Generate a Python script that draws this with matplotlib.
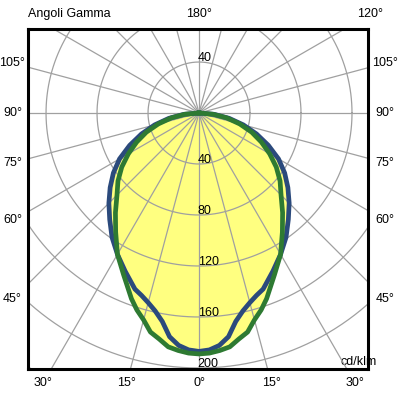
import numpy as np
import matplotlib
matplotlib.use("Agg")
import matplotlib.pyplot as plt

plt.rcParams['font.family'] = ['Liberation Sans', 'DejaVu Sans']

# intensita (cd/klm) per angolo gamma, curva simmetrica
gamma = [0, 2.5, 5, 7.5, 10, 12.5, 15, 17.5, 20, 25, 30, 35, 40, 45, 50, 55, 60, 65, 70, 75, 80, 85, 90]
blu = [187, 186, 183, 177, 166, 159, 154, 150, 147, 137, 128, 119, 109, 100, 91, 82, 72, 60, 48, 36, 24, 12, 0]
verde = [189, 188.5, 187, 185, 180, 176, 168, 162, 155, 140, 128, 114, 102, 91, 83, 74, 64, 54, 44, 33, 22, 11, 0]

cerchi = [40, 80, 120, 160, 200]
etichette_lato = [105, 90, 75, 60, 45]
etichette_sotto = [-30, -15, 0, 15, 30]


def curva(valori):
    g = np.radians(np.array(gamma, dtype=float))
    r = np.array(valori, dtype=float)
    # lato sinistro da 90 a 0, poi lato destro da 0 a 90
    x = np.concatenate([-(r * np.sin(g))[::-1], (r * np.sin(g))[1:]])
    y = np.concatenate([-(r * np.cos(g))[::-1], -(r * np.cos(g))[1:]])
    return x, y


fig = plt.figure(figsize=(3.98, 3.98), dpi=100)
ax = fig.add_axes([28 / 398, 29 / 398, 340 / 398, 340 / 398])
ax.set_xlim(-134.1, 132.5)
ax.set_ylim(-200.8, 65.9)
ax.set_aspect('equal')
ax.set_xticks([])
ax.set_yticks([])
for s in ax.spines.values():
    s.set_linewidth(2.2)
    s.set_zorder(5)

xb, yb = curva(blu)
xv, yv = curva(verde)
ax.fill(xb, yb, color='#ffff80', lw=0, zorder=1)
ax.fill(xv, yv, color='#ffff80', lw=0, zorder=1)

# griglia polare
t = np.linspace(0, 2 * np.pi, 400)
for r in range(40, 440, 40):
    ax.plot(r * np.cos(t), r * np.sin(t), color='#a0a0a0', lw=0.9, zorder=2)
for a in range(0, 360, 15):
    ar = np.radians(a)
    ax.plot([0, 420 * np.sin(ar)], [0, -420 * np.cos(ar)], color='#a0a0a0', lw=0.9, zorder=2)

ax.plot(xb, yb, color='#2b4a7c', lw=3.4, zorder=3, solid_joinstyle='round')
ax.plot(xv, yv, color='#2e7a32', lw=3.4, zorder=4, solid_joinstyle='round')

# valori sui cerchi
ax.text(-1, 40.5, '40', fontsize=9, ha='left', va='baseline', zorder=6)
for r in cerchi:
    ax.text(-1, -r + 1.0, str(r), fontsize=9, ha='left', va='baseline', zorder=6)

# etichette angoli
xl = (385 - 199) / 1.275
for a in etichette_lato:
    y = -xl / np.tan(np.radians(a)) if a != 90 else 0
    ax.text(xl, y, f'{a}°', fontsize=9, ha='center', va='center', clip_on=False)
    ax.text(-xl - 0.5, y, f'{a}°', fontsize=9, ha='center', va='center', clip_on=False)
yl = -(383 - 113) / 1.275
for a in etichette_sotto:
    x = -yl * np.tan(np.radians(a))
    ax.text(x, yl, f'{abs(a)}°', fontsize=9, ha='center', va='center', clip_on=False)
yt = (113 - 14) / 1.275
ax.text(0, yt, '180°', fontsize=9, ha='center', va='center', clip_on=False)
ax.text(yt * np.tan(np.radians(60)), yt, '120°', fontsize=9, ha='center', va='center', clip_on=False)
ax.text(-134.1, yt, 'Angoli Gamma', fontsize=9, ha='left', va='center', clip_on=False)
ax.text(110.6, -195.0, 'cd/klm', fontsize=9, ha='left', va='center', clip_on=False, zorder=1)

fig.savefig('out.png', dpi=100)
